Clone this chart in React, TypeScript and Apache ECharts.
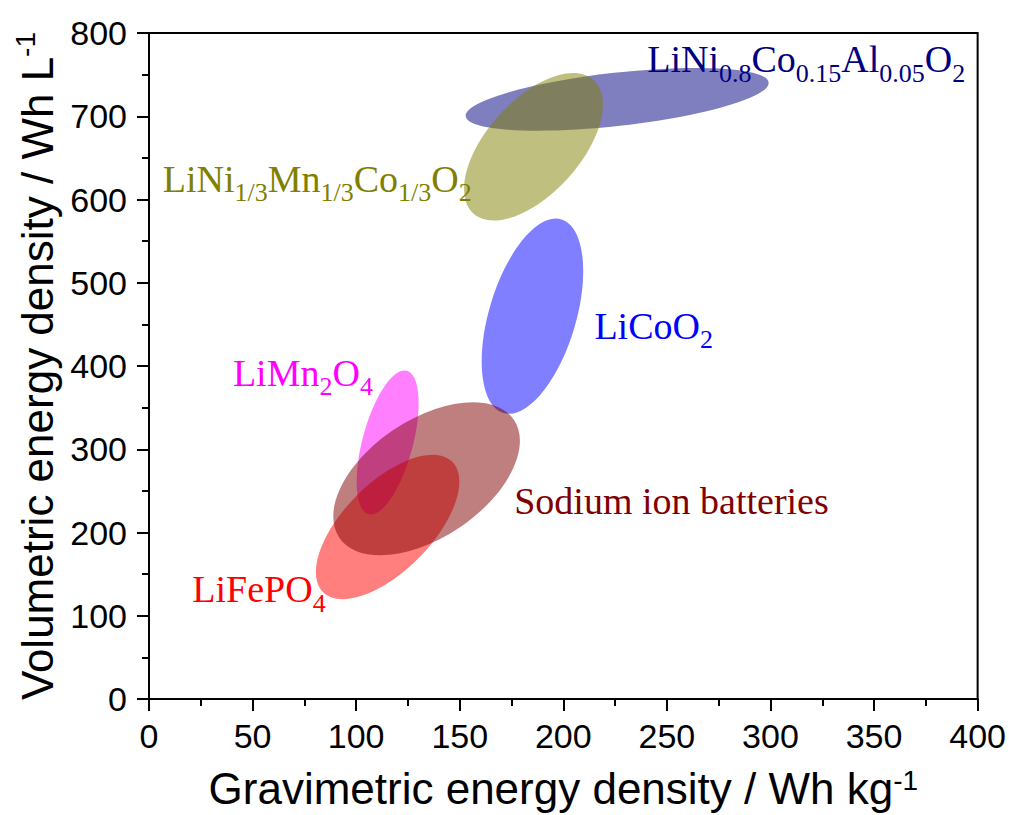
import React, { useEffect, useRef } from 'react';
import * as echarts from 'echarts';

// Materials shown as shaded ellipses (gravimetric Wh/kg, volumetric Wh/L)
const MATERIALS = [
  'LiNi0.8Co0.15Al0.05O2',
  'LiNi1/3Mn1/3Co1/3O2',
  'LiCoO2',
  'LiMn2O4',
  'LiFePO4',
  'Sodium ion batteries',
];
// ellipse centres
const CENTER_X = [226.0, 185.6, 185.1, 115.2, 115.2, 134.0];
const CENTER_Y = [720.3, 663.3, 459.8, 308.0, 206.7, 264.6];
// one end of each ellipse's major axis
const MAJOR_END_X = [299.1, 214.6, 199.1, 124.4, 146.3, 176.1];
const MAJOR_END_Y = [740.6, 743.5, 576.1, 394.2, 285.1, 335.4];
// minor / major axis ratio
const MINOR_RATIO = [0.175, 0.52, 0.43, 0.34, 0.48, 0.56];
// label anchors (left edge, middle of the text line)
const LABEL_X = [240.5, 6.6, 215.0, 40.5, 20.9, 176.3];
const LABEL_Y = [768.6, 624.7, 448.1, 391.7, 131.9, 238.2];
// label texts: main part / subscript pairs
const LABEL_PARTS: [string, string][][] = [
  [['LiNi', '0.8'], ['Co', '0.15'], ['Al', '0.05'], ['O', '2']],
  [['LiNi', '1/3'], ['Mn', '1/3'], ['Co', '1/3'], ['O', '2']],
  [['LiCo', ''], ['O', '2']],
  [['LiMn', '2'], ['O', '4']],
  [['LiFeP', ''], ['O', '4']],
  [['Sodium ion batteries', '']],
];
const COLORS = ['#000080', '#808000', '#0000ff', '#ff00ff', '#ff0000', '#800000'];

const X_TICKS = { min: 0, max: 400, interval: 50 };
const Y_TICKS = { min: 0, max: 800, interval: 100 };

const SANS = 'Arial, "Liberation Sans", sans-serif';
const SERIF = '"Times New Roman", "Liberation Serif", serif';

function hexToRgba(hex: string, a: number) {
  const n = parseInt(hex.slice(1), 16);
  return `rgba(${(n >> 16) & 255},${(n >> 8) & 255},${n & 255},${a})`;
}

function richText(parts: [string, string][]) {
  return parts.map(([m, s]) => `{m|${m}}` + (s ? `{s|${s}}` : '')).join('');
}

function titleRich(supPad: number) {
  return {
    t: { fontSize: 44, fontFamily: SANS, color: '#000', verticalAlign: 'middle' },
    sup: { fontSize: 28, fontFamily: SANS, color: '#000', verticalAlign: 'middle', padding: [0, 0, supPad, 0] },
  };
}

export default function App() {
  const ref = useRef<HTMLDivElement>(null);
  useEffect(() => {
    document.body.style.margin = '0';
    const chart = echarts.init(ref.current!, null, { renderer: 'svg' });
    const axisCommon = {
      type: 'value' as const,
      splitLine: { show: false },
      axisLine: { show: true, lineStyle: { color: '#000', width: 2 } },
      axisTick: { show: true, inside: false, length: 12, lineStyle: { color: '#000', width: 2 } },
      minorTick: { show: true, splitNumber: 2, length: 7, lineStyle: { color: '#000', width: 2 } },
    };
    chart.setOption({
      animation: false,
      backgroundColor: '#fff',
      grid: {
        left: 149,
        top: 33,
        right: 30,
        bottom: 114,
        show: true,
        borderColor: '#000',
        borderWidth: 2,
        backgroundColor: 'transparent',
      },
      xAxis: {
        ...axisCommon,
        ...X_TICKS,
        axisLabel: { color: '#000', fontSize: 34, fontFamily: SANS, margin: 20 },
        name: '{t|Gravimetric energy density / Wh kg}{sup|-1}',
        nameLocation: 'middle',
        nameGap: 67,
        nameTextStyle: { rich: titleRich(16) },
      },
      yAxis: {
        ...axisCommon,
        ...Y_TICKS,
        axisLabel: { color: '#000', fontSize: 34, fontFamily: SANS, margin: 22 },
        name: '{t|Volumetric energy density / Wh L}{sup|-1}',
        nameLocation: 'middle',
        nameGap: 86,
        nameTextStyle: { rich: titleRich(24) },
      },
      series: [
        {
          type: 'custom',
          coordinateSystem: 'cartesian2d',
          silent: true,
          z: 2,
          data: MATERIALS.map((_, i) => [CENTER_X[i], CENTER_Y[i], MAJOR_END_X[i], MAJOR_END_Y[i], MINOR_RATIO[i]]),
          encode: { x: 0, y: 1 },
          renderItem: (params: any, api: any) => {
            const i = params.dataIndex;
            const c = api.coord([api.value(0), api.value(1)]);
            const e = api.coord([api.value(2), api.value(3)]);
            const dx = e[0] - c[0];
            const dy = e[1] - c[1];
            const a = Math.hypot(dx, dy);
            return {
              type: 'ellipse',
              x: c[0],
              y: c[1],
              rotation: Math.atan2(-dy, dx),
              shape: { cx: 0, cy: 0, rx: a, ry: a * api.value(4) },
              style: { fill: hexToRgba(COLORS[i], 0.5) },
            };
          },
        },
        {
          type: 'custom',
          coordinateSystem: 'cartesian2d',
          silent: true,
          z: 3,
          clip: false,
          data: MATERIALS.map((_, i) => [LABEL_X[i], LABEL_Y[i]]),
          encode: { x: 0, y: 1 },
          renderItem: (params: any, api: any) => {
            const i = params.dataIndex;
            const p = api.coord([api.value(0), api.value(1)]);
            return {
              type: 'text',
              x: p[0],
              y: p[1],
              style: {
                text: richText(LABEL_PARTS[i]),
                align: 'left',
                verticalAlign: 'middle',
                fill: COLORS[i],
                rich: {
                  m: { fontSize: 38, fontFamily: SERIF, fill: COLORS[i], verticalAlign: 'middle' },
                  s: { fontSize: 26, fontFamily: SERIF, fill: COLORS[i], verticalAlign: 'middle', padding: [28, 0, 0, 0] },
                },
              },
            };
          },
        },
      ],
    });
    return () => chart.dispose();
  }, []);
  return <div ref={ref} style={{ width: 1009, height: 815 }} />;
}
